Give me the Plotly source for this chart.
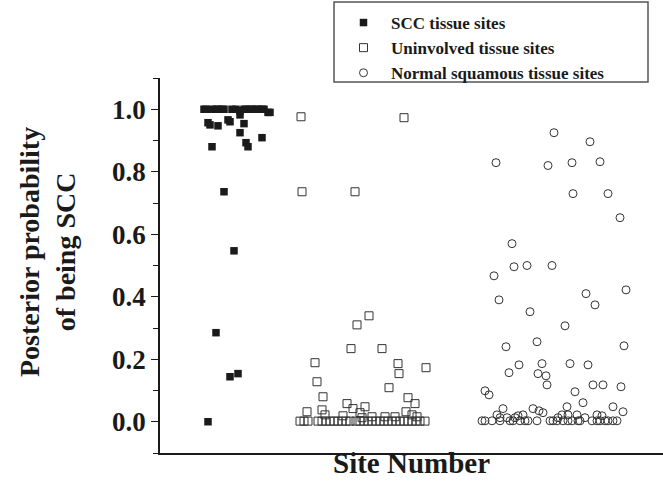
import plotly.graph_objects as go

# ---- data (x = site number, y = posterior probability of being SCC) ----
scc_site = [22, 23, 26, 28, 29, 31, 32, 36, 38, 40, 42, 43, 45, 46, 48, 49, 51, 52, 54, 55,
            24, 25, 29, 34, 35, 40, 42, 40, 51, 26, 43, 44, 32, 37, 28, 35, 39, 24]
scc_prob = [1.0, 1.0, 1.0, 1.0, 1.0, 1.0, 1.0, 1.0, 1.0, 0.995, 1.0, 1.0, 1.0, 1.0, 1.0, 1.0, 1.0, 1.0, 0.99, 0.99,
            0.957, 0.95, 0.947, 0.966, 0.96, 0.982, 0.954, 0.925, 0.909, 0.88, 0.893, 0.88, 0.736, 0.547,
            0.285, 0.144, 0.154, 0.0]

uninv_site = [70.5, 122, 71, 97.5, 104.5, 98.5, 95.5, 111, 77.5, 119, 133, 119.5, 78.5, 114.5, 81.5,
              124, 93.5, 127.5, 96.5, 102.5, 73.5, 81, 100, 123, 82.5, 91.5, 101, 126, 128.5, 106,
              112.5, 117.5,
              70, 72, 74, 79, 81, 83, 85, 87, 89, 91, 93, 95, 98, 100, 102, 104, 106, 108, 110, 112,
              114, 116, 118, 120, 122, 124, 126, 128, 130, 132.5]
uninv_prob = [0.976, 0.973, 0.736, 0.736, 0.339, 0.31, 0.234, 0.234, 0.189, 0.186, 0.173, 0.154, 0.128,
              0.109, 0.08, 0.077, 0.058, 0.058, 0.042, 0.048, 0.032, 0.038, 0.029, 0.032, 0.022, 0.019,
              0.013, 0.022, 0.016, 0.016, 0.016, 0.016,
              0.002, 0.002, 0.002, 0.002, 0.002, 0.002, 0.002, 0.002, 0.002, 0.002, 0.002, 0.002, 0.002,
              0.002, 0.002, 0.002, 0.002, 0.002, 0.002, 0.002, 0.002, 0.002, 0.002, 0.002, 0.002, 0.002,
              0.002, 0.002, 0.002, 0.002]

normal_site = [197, 215, 168, 194, 206, 220, 206.5, 224, 230, 176, 177, 183.5, 196, 167, 233, 213,
               217.5, 169.5, 185, 202.5, 188.5, 173, 232, 191, 179.5, 205, 214, 174.5, 189, 193,
               193.5, 216.5, 221.5, 230.5, 162.5, 164.5, 207.5, 211.5, 226.5, 231.5, 171.5, 186.5,
               189.5, 203.5, 191.5, 168.5, 181.5, 201, 179, 204, 208.5, 218.5, 221, 170, 173.5,
               177.5, 199, 212.5,
               161, 162.5, 166, 170, 175, 176.5, 180, 182.5, 184, 188.5, 195, 196.5, 198.5, 201.5,
               204, 206, 209, 210, 216, 218.5, 220, 222.5, 224, 226.5, 228.5]
normal_prob = [0.925, 0.896, 0.829, 0.82, 0.829, 0.832, 0.73, 0.73, 0.653, 0.57, 0.496, 0.5, 0.5, 0.467,
               0.422, 0.41, 0.374, 0.39, 0.352, 0.307, 0.256, 0.24, 0.243, 0.186, 0.182, 0.186, 0.182,
               0.157, 0.154, 0.147, 0.118, 0.118, 0.118, 0.112, 0.099, 0.086, 0.096, 0.061, 0.048,
               0.032, 0.042, 0.042, 0.035, 0.048, 0.029, 0.022, 0.022, 0.022, 0.019, 0.022, 0.022,
               0.022, 0.019, 0.013, 0.013, 0.013, 0.013, 0.013,
               0.003, 0.003, 0.003, 0.003, 0.003, 0.003, 0.003, 0.003, 0.003, 0.003, 0.003, 0.003,
               0.003, 0.003, 0.003, 0.003, 0.003, 0.003, 0.003, 0.003, 0.003, 0.003, 0.003, 0.003, 0.003]

series_names = ["SCC tissue sites", "Uninvolved tissue sites", "Normal squamous tissue sites"]
y_ticks = [0.0, 0.2, 0.4, 0.6, 0.8, 1.0]
y_tick_labels = ["0.0", "0.2", "0.4", "0.6", "0.8", "1.0"]

SERIF = "Liberation Serif"
INK = "#1a1a1a"
W, H = 663, 482
ML, MT, MB = 160, 78, 29
PW, PH = W - ML, H - MT - MB


def px_x(p):
    return (p - ML) / PW


def px_y(p):
    return (H - MB - p) / PH


fig = go.Figure()
fig.add_trace(go.Scatter(x=scc_site, y=scc_prob, mode="markers", name=series_names[0],
                         marker=dict(symbol="square", size=7.5, color=INK, line=dict(width=0))))
fig.add_trace(go.Scatter(x=uninv_site, y=uninv_prob, mode="markers", name=series_names[1],
                         marker=dict(symbol="square-open", size=8, color="#333333", line=dict(width=1))))
fig.add_trace(go.Scatter(x=normal_site, y=normal_prob, mode="markers", name=series_names[2],
                         marker=dict(symbol="circle-open", size=8, color="#333333", line=dict(width=1))))

fig.update_layout(
    width=W, height=H,
    margin=dict(l=ML, r=0, t=MT, b=MB, autoexpand=False),
    paper_bgcolor="white", plot_bgcolor="white",
    font=dict(family=SERIF, color=INK),
    showlegend=True,
    legend=dict(
        xref="container", yref="container",
        x=336 / W, y=1 - 5 / H, xanchor="left", yanchor="top",
        borderwidth=0, bgcolor="rgba(0,0,0,0)",
        font=dict(family=SERIF, size=17, weight="bold", color=INK),
        tracegroupgap=0, itemwidth=45,
    ),
    shapes=[dict(type="rect", xref="paper", yref="paper",
                 x0=px_x(334), x1=px_x(648), y0=px_y(82), y1=px_y(2),
                 line=dict(color="#555555", width=1.5), fillcolor="rgba(0,0,0,0)", layer="below")],
    xaxis=dict(range=[0, 251.5], showgrid=False, zeroline=False, showticklabels=False,
               ticks="", showline=True, linecolor=INK, linewidth=1.5),
    yaxis=dict(range=[-0.1, 1.1], showgrid=False, zeroline=False, showline=True,
               linecolor=INK, linewidth=1.5, ticks="outside", ticklen=7, tickwidth=1.2,
               tickcolor=INK, tickvals=y_ticks, ticktext=y_tick_labels,
               tickfont=dict(family=SERIF, size=27, weight="bold", color=INK),
               minor=dict(ticks="outside", ticklen=5, tickwidth=1.2, tickcolor=INK, dtick=0.1,
                          showgrid=False)),
    annotations=[
        dict(text="Site Number", xref="paper", yref="paper", x=0.5, y=px_y(463),
             xanchor="center", yanchor="middle", showarrow=False,
             font=dict(family=SERIF, size=29, weight="bold", color=INK)),
        dict(text="Posterior probability<br>of being SCC", xref="paper", yref="paper",
             x=px_x(47), y=px_y(252), xanchor="center", yanchor="middle",
             textangle=-90, showarrow=False,
             font=dict(family=SERIF, size=28, weight="bold", color=INK)),
    ],
)

fig.write_html("out.html")
